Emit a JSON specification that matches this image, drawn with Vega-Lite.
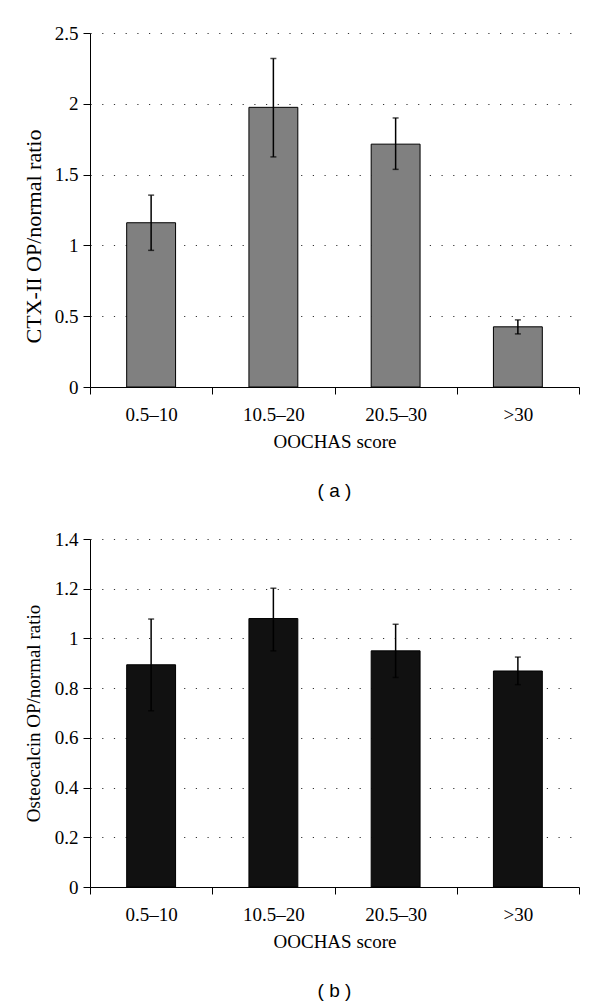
{
  "$schema": "https://vega.github.io/schema/vega-lite/v6.json",
  "autosize": {"type": "pad"},
  "padding": {"left": 22, "top": 24, "right": 10, "bottom": 2},
  "background": "white",
  "bounds": "flush",
  "spacing": 152,
  "config": {
    "view": {"stroke": null},
    "font": "Liberation Serif",
    "axis": {
      "labelFont": "Liberation Serif",
      "titleFont": "Liberation Serif",
      "labelFontSize": 19,
      "titleFontSize": 19,
      "labelColor": "#000",
      "titleColor": "#000",
      "titleFontWeight": "normal",
      "domainColor": "#000",
      "tickColor": "#000",
      "domainWidth": 1,
      "tickWidth": 1,
      "tickSize": 7
    },
    "axisX": {"labelAngle": 0, "tickBand": "extent", "labelPadding": 11, "titlePadding": 8, "grid": false},
    "axisY": {"grid": true, "gridDash": [1.2, 10.5], "gridColor": "#333", "gridWidth": 1, "labelPadding": 5, "titleX": -57, "titleBaseline": "middle", "format": "~g"},
    "title": {"font": "Liberation Sans", "fontSize": 19, "fontWeight": "normal", "color": "#000", "orient": "bottom", "offset": 31, "anchor": "middle"}
  },
  "vconcat": [
    {
      "width": 489,
      "height": 354,
      "title": {"text": "( a )"},
      "data": {"values": [
        {"score": "0.5–10", "mean": 1.16, "lo": 0.965, "hi": 1.355},
        {"score": "10.5–20", "mean": 1.975, "lo": 1.625, "hi": 2.32},
        {"score": "20.5–30", "mean": 1.715, "lo": 1.537, "hi": 1.9},
        {"score": ">30", "mean": 0.425, "lo": 0.375, "hi": 0.474}
      ]},
      "encoding": {
        "x": {"field": "score", "type": "nominal", "sort": null, "title": "OOCHAS score", "scale": {"paddingInner": 0, "paddingOuter": 0}}
      },
      "layer": [
        {
          "mark": {"type": "bar", "width": {"band": 0.4}, "fill": "#808080", "stroke": "#000", "strokeWidth": 1},
          "encoding": {"y": {"field": "mean", "type": "quantitative", "title": "CTX-II OP/normal ratio", "scale": {"domain": [0, 2.5], "nice": false}, "axis": {"values": [0, 0.5, 1, 1.5, 2, 2.5], "titleFontSize": 22, "titleY": 203}}}
        },
        {
          "mark": {"type": "rule", "color": "#000", "strokeWidth": 1.5},
          "encoding": {"y": {"field": "lo", "type": "quantitative", "title": "CTX-II OP/normal ratio"}, "y2": {"field": "hi"}}
        },
        {
          "mark": {"type": "tick", "color": "#000", "thickness": 1.5, "size": 6},
          "encoding": {"y": {"field": "hi", "type": "quantitative", "title": "CTX-II OP/normal ratio"}}
        },
        {
          "mark": {"type": "tick", "color": "#000", "thickness": 1.5, "size": 6},
          "encoding": {"y": {"field": "lo", "type": "quantitative", "title": "CTX-II OP/normal ratio"}}
        }
      ]
    },
    {
      "width": 489,
      "height": 348,
      "title": {"text": "( b )"},
      "data": {"values": [
        {"score": "0.5–10", "mean": 0.894, "lo": 0.709, "hi": 1.078},
        {"score": "10.5–20", "mean": 1.08, "lo": 0.95, "hi": 1.202},
        {"score": "20.5–30", "mean": 0.95, "lo": 0.843, "hi": 1.057},
        {"score": ">30", "mean": 0.869, "lo": 0.814, "hi": 0.925}
      ]},
      "encoding": {
        "x": {"field": "score", "type": "nominal", "sort": null, "title": "OOCHAS score", "scale": {"paddingInner": 0, "paddingOuter": 0}}
      },
      "layer": [
        {
          "mark": {"type": "bar", "width": {"band": 0.4}, "fill": "#111111", "stroke": "#000", "strokeWidth": 1},
          "encoding": {"y": {"field": "mean", "type": "quantitative", "title": "Osteocalcin OP/normal ratio", "scale": {"domain": [0, 1.4], "nice": false}, "axis": {"values": [0, 0.2, 0.4, 0.6, 0.8, 1, 1.2, 1.4]}}}
        },
        {
          "mark": {"type": "rule", "color": "#000", "strokeWidth": 1.5},
          "encoding": {"y": {"field": "lo", "type": "quantitative", "title": "Osteocalcin OP/normal ratio"}, "y2": {"field": "hi"}}
        },
        {
          "mark": {"type": "tick", "color": "#000", "thickness": 1.5, "size": 6},
          "encoding": {"y": {"field": "hi", "type": "quantitative", "title": "Osteocalcin OP/normal ratio"}}
        },
        {
          "mark": {"type": "tick", "color": "#000", "thickness": 1.5, "size": 6},
          "encoding": {"y": {"field": "lo", "type": "quantitative", "title": "Osteocalcin OP/normal ratio"}}
        }
      ]
    }
  ]
}
